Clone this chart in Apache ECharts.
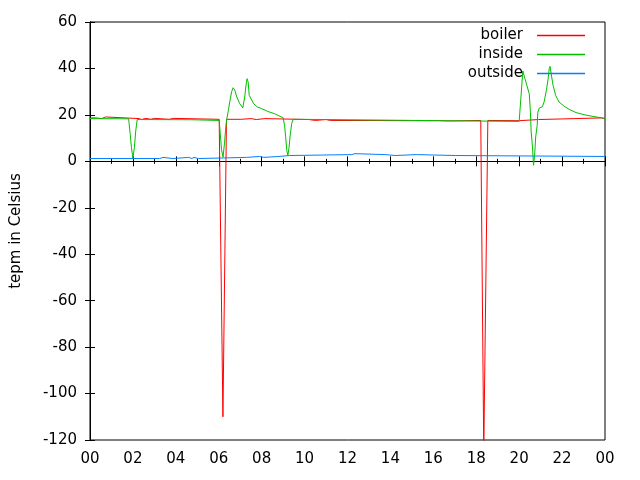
<!DOCTYPE html>
<html>
<head>
<meta charset="utf-8">
<script src="https://cdn.jsdelivr.net/npm/echarts@6/dist/echarts.min.js"></script>
<style>html,body{margin:0;padding:0;background:#fff}#c{width:640px;height:480px}</style>
</head>
<body>
<div id="c"></div>
<script>
// Time (hours of day) vs temperature in Celsius
var seriesNames = ['boiler', 'inside', 'outside'];
var xTickHours = [0, 2, 4, 6, 8, 10, 12, 14, 16, 18, 20, 22, 24];
var yTicks = [-120, -100, -80, -60, -40, -20, 0, 20, 40, 60];

var boilerData = [
  [0, 18.7], [0.25, 18.7], [0.28, 18.4], [0.55, 18.4], [0.58, 19.1], [0.72, 19.1], [0.75, 18.4],
  [2.3, 18.4], [2.33, 18.0], [2.4, 18.0], [2.42, 18.5], [2.6, 18.5], [2.62, 18.1], [2.84, 18.1],
  [2.86, 18.5], [3.0, 18.5], [3.02, 18.1], [3.7, 18.1], [3.72, 18.5], [3.86, 18.5], [3.88, 18.1],
  [6.02, 18.1], [6.195, -110], [6.36, 18.1], [7.05, 18.1], [7.07, 18.4], [7.5, 18.4], [7.52, 18.0],
  [7.75, 18.0], [7.77, 18.4], [8.15, 18.4], [8.17, 18.0], [10.2, 18.0], [10.22, 17.6], [10.5, 17.6],
  [10.52, 18.0], [11.0, 18.0], [11.02, 17.6], [11.2, 17.6], [11.22, 17.5], [16.3, 17.5], [16.32, 17.4],
  [16.7, 17.4], [16.72, 17.6], [18.21, 17.6], [18.35, -125], [18.54, 17.6], [20.0, 17.5], [20.02, 18.0],
  [20.9, 18.0], [20.93, 18.4], [22.6, 18.4], [22.63, 18.7], [23.85, 18.7], [23.87, 18.3], [24, 18.3]
];

var insideData = [
  [0, 18.4], [1.8, 18.3], [1.87, 12], [1.93, 6], [2.0, 1.4], [2.07, 6], [2.13, 13], [2.2, 18.0],
  [4.75, 17.9], [4.77, 17.6], [6.02, 17.6], [6.07, 12], [6.13, 5], [6.2, 1.8], [6.27, 8], [6.33, 15],
  [6.38, 18.5], [6.45, 22], [6.52, 26], [6.6, 30], [6.67, 31.7], [6.75, 30.6], [6.84, 27.7], [6.98, 24.8],
  [7.12, 23], [7.16, 22.7], [7.21, 27.7], [7.26, 32], [7.32, 35.6], [7.37, 34.2], [7.42, 28.4], [7.5, 27.6],
  [7.63, 24.8], [7.8, 23.4], [8.0, 22.7], [8.28, 21.5], [8.6, 20.5], [8.85, 19.4], [9.0, 18.8], [9.07, 15.3],
  [9.12, 10.3], [9.17, 4.7], [9.22, 2.6], [9.27, 5.5], [9.33, 11.3], [9.4, 16.3], [9.47, 18.1], [11.0, 18.0],
  [11.02, 17.5], [16.3, 17.5], [16.32, 17.2], [20.0, 17.2], [20.07, 26], [20.17, 38.9], [20.27, 35.6],
  [20.38, 32], [20.47, 29.1], [20.52, 22], [20.56, 12.6], [20.62, 6.2], [20.67, -1.7], [20.72, 2.6],
  [20.77, 10.5], [20.84, 15.5], [20.87, 21.2], [20.94, 23], [21.02, 22.7], [21.08, 23.5], [21.16, 25.5],
  [21.27, 30.6], [21.35, 35.6], [21.4, 39.9], [21.44, 40.9], [21.49, 37.8], [21.58, 32.7], [21.7, 28.4],
  [21.86, 25.5], [22.1, 23.7], [22.33, 22.4], [22.65, 21], [23.02, 20.1], [23.4, 19.4], [23.86, 18.7], [24, 18.5]
];

var outsideData = [
  [0, 1.2], [3.25, 1.2], [3.27, 1.7], [3.4, 1.7], [3.42, 1.2], [3.85, 1.2], [3.87, 1.7], [4.6, 1.7],
  [4.62, 1.2], [4.75, 1.2], [4.77, 1.7], [4.85, 1.7], [4.87, 1.2], [5.05, 1.2], [5.07, 1.7], [7.3, 1.7],
  [7.32, 2.1], [7.9, 2.1], [7.92, 1.7], [8.1, 1.7], [8.12, 2.1], [8.8, 2.1], [8.82, 2.5], [9.3, 2.5],
  [9.32, 2.9], [12.2, 2.9], [12.22, 3.3], [12.35, 3.3], [12.37, 2.9], [13.75, 2.9], [13.77, 2.5],
  [14.25, 2.5], [14.27, 2.9], [15.2, 2.9], [15.22, 2.5], [17.05, 2.5], [17.07, 2.1], [24, 2.1]
];

var FONT = 'DejaVu Sans';
var chart = echarts.init(document.getElementById('c'), null, {renderer: 'canvas'});

function hourLabel(v) {
  var h = Math.round(v) % 24;
  return (h < 10 ? '0' : '') + h;
}

var xMin = xTickHours[0], xMax = xTickHours[xTickHours.length - 1];
var yMin = yTicks[0], yMax = yTicks[yTicks.length - 1];

var axisLine = {show: true, lineStyle: {color: '#000', width: 1}};
var option = {
  animation: false,
  backgroundColor: '#fff',
  grid: {left: 90, right: 35, top: 22, bottom: 40, show: true, borderColor: '#000', borderWidth: 1,
         containLabel: false, outerBoundsMode: 'none'},
  legend: {
    orient: 'vertical', align: 'right', right: 50, top: 23,
    icon: 'rect', itemWidth: 48, itemHeight: 1.4, itemGap: 4,
    textStyle: {fontFamily: FONT, fontSize: 15, color: '#000', padding: [0, 9, 0, 0]},
    data: seriesNames
  },
  xAxis: [
    {type: 'value', min: xMin, max: xMax, interval: 2, position: 'bottom',
     axisLine: axisLine,
     axisTick: {show: true, inside: true, length: 5, lineStyle: {color: '#000'}},
     minorTick: {show: true, splitNumber: 2, length: 2.5, lineStyle: {color: '#000'}},
     axisLabel: {formatter: hourLabel, fontFamily: FONT, fontSize: 15, color: '#000', margin: 12},
     splitLine: {show: false}},
    {type: 'value', min: xMin, max: xMax, interval: 2, position: 'top',
     axisLine: axisLine,
     axisTick: {show: true, inside: true, length: 5, lineStyle: {color: '#000'}},
     minorTick: {show: true, splitNumber: 2, length: 2.5, lineStyle: {color: '#000'}},
     axisLabel: {show: false}, splitLine: {show: false}}
  ],
  yAxis: [
    {type: 'value', min: yMin, max: yMax, interval: 20, position: 'left',
     name: 'tepm in Celsius', nameLocation: 'middle', nameGap: 66, nameRotate: 90,
     nameTextStyle: {fontFamily: FONT, fontSize: 15, color: '#000'},
     axisLine: axisLine,
     axisTick: {show: true, inside: true, length: 5, lineStyle: {color: '#000'}},
     axisLabel: {fontFamily: FONT, fontSize: 15, color: '#000', margin: 13},
     splitLine: {show: false}},
    {type: 'value', min: yMin, max: yMax, interval: 20, position: 'right',
     axisLine: axisLine,
     axisTick: {show: true, inside: true, length: 5, lineStyle: {color: '#000'}},
     axisLabel: {show: false}, splitLine: {show: false}}
  ],
  series: [
    {name: 'boiler', type: 'line', data: boilerData, symbol: 'none', color: '#ff0000',
     lineStyle: {width: 1, color: '#ff0000'}, xAxisIndex: 0, yAxisIndex: 0},
    {name: 'inside', type: 'line', data: insideData, symbol: 'none', color: '#00c000',
     lineStyle: {width: 1, color: '#00c000'}, xAxisIndex: 0, yAxisIndex: 0},
    {name: 'outside', type: 'line', data: outsideData, symbol: 'none', color: '#0080ff',
     lineStyle: {width: 1, color: '#0080ff'}, xAxisIndex: 0, yAxisIndex: 0}
  ]
};
chart.setOption(option);
</script>
</body>
</html>
